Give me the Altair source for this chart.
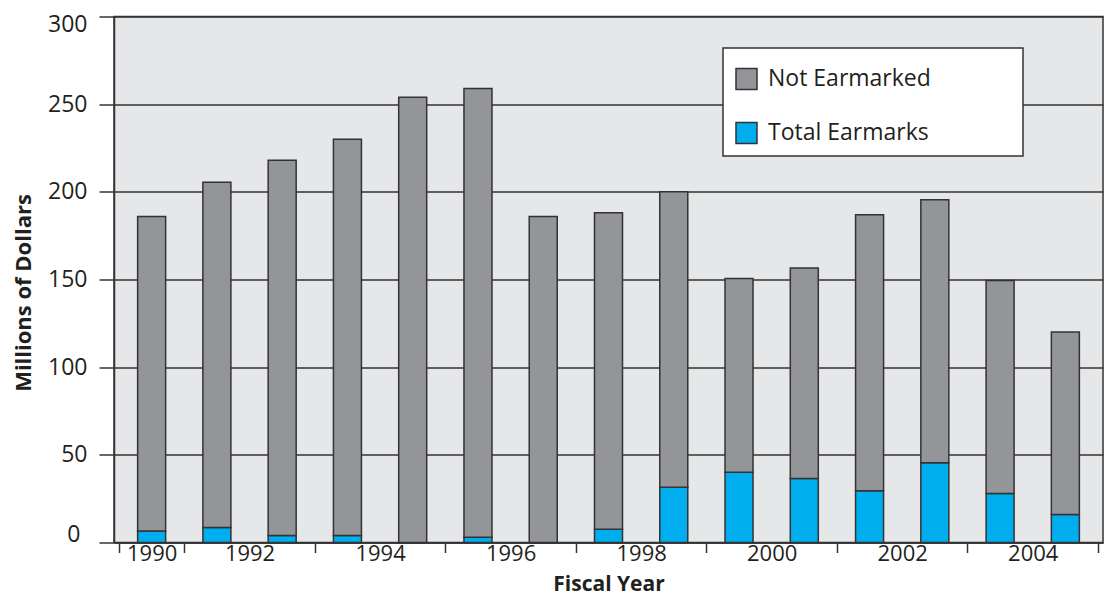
import altair as alt
import pandas as pd

# ---- data ----
years = list(range(1990, 2005))
not_earmarked = [179.5, 197, 214, 226, 254, 256, 186, 180.5, 168.5, 110.5, 120, 157.5, 150, 121.5, 104]
total_earmarks = [6.5, 8.5, 4, 4, 0, 3, 0, 7.5, 31.5, 40, 36.5, 29.5, 45.5, 28, 16]
series_names = ["Not Earmarked", "Total Earmarks"]
series_colors = ["#939598", "#00aeef"]
y_ticks = [0, 50, 100, 150, 200, 250, 300]
# x axis: ticks between bar pairs, labels centred between ticks
x_tick_positions = [-0.5, 0.5, 2.5, 4.5, 6.5, 8.5, 10.5, 12.5, 14.5]
x_label_positions = [0, 1.5, 3.5, 5.5, 7.5, 9.5, 11.5, 13.5]
x_labels = ["1990", "1992", "1994", "1996", "1998", "2000", "2002", "2004"]

rows = []
for i, yr in enumerate(years):
    rows.append({"idx": i, "year": yr, "series": "Total Earmarks", "value": total_earmarks[i], "order": 0})
    rows.append({"idx": i, "year": yr, "series": "Not Earmarked", "value": not_earmarked[i], "order": 1})
df = pd.DataFrame(rows)

INK = "#333333"
TEXT = "#231f20"
FONT = "Open Sans"

label_expr = "".join(f"datum.value == {p} ? '{l}' : " for p, l in zip(x_label_positions, x_labels)) + "''"
tick_test = "indexof([" + ", ".join(str(p) for p in x_tick_positions) + "], datum.value) >= 0"

x_axis = alt.Axis(
    values=sorted(x_tick_positions + x_label_positions),
    labelExpr=label_expr,
    tickOpacity={"condition": {"test": tick_test, "value": 1}, "value": 0},
    tickSize=10, tickColor=INK, tickWidth=1.5,
    domainColor=INK, domainWidth=1.5,
    grid=False, labelOverlap=False, labelFlush=False,
    labelFontSize=22, labelPadding=-9,
    title="Fiscal Year", titleFontSize=21, titleFontWeight="bold", titlePadding=8.5,
)

y_axis = alt.Axis(
    values=y_ticks,
    tickSize=15, tickColor=INK, tickWidth=1.5,
    domainColor=INK, domainWidth=1.5,
    grid=True, gridColor=INK, gridWidth=1.5,
    labelFontSize=23,
    labelPadding={"condition": {"test": "datum.value == 0", "value": 19}, "value": 12},
    labelOffset={"condition": [
        {"test": "datum.value == 300", "value": 7.5},
        {"test": "datum.value == 0", "value": -8},
    ], "value": 0},
    title="Millions of Dollars", titleFontSize=22, titleFontWeight="bold", titlePadding=12,
    titleY=276,
)

bars = alt.Chart(df).mark_bar(size=28, stroke=INK, strokeWidth=1.5).encode(
    x=alt.X("idx:Q", scale=alt.Scale(domain=[-0.5, 14.5], nice=False, zero=False), axis=x_axis),
    y=alt.Y("value:Q", stack="zero", scale=alt.Scale(domain=[0, 300], nice=False), axis=y_axis),
    color=alt.Color(
        "series:N",
        scale=alt.Scale(domain=series_names, range=series_colors),
        legend=alt.Legend(
            orient="none", legendX=621, legendY=51, title=None,
            symbolType="square", symbolSize=441, symbolStrokeColor=INK, symbolStrokeWidth=1.5,
            symbolOpacity=1, labelFontSize=23, labelFont=FONT, labelColor=TEXT,
            labelOffset=10, labelLimit=400, rowPadding=27, padding=0,
        ),
    ),
    order=alt.Order("order:Q", sort="ascending"),
)

legend_box = alt.Chart(alt.Data(values=[{}])).mark_rect(
    fill="white", stroke=INK, strokeWidth=1.5
).encode(
    x=alt.value(609), x2=alt.value(909), y=alt.value(31.5), y2=alt.value(139.5)
)

chart = (
    alt.layer(bars, legend_box)
    .properties(
        width=989, height=526,
        padding={"left": 106, "top": 8.5, "right": 1, "bottom": 54.5},
        autosize=alt.AutoSizeParams(type="none"),
        background="white",
    )
    .configure_view(fill="#e6e7e8", stroke=INK, strokeWidth=1.5)
    .configure_axis(labelFont=FONT, titleFont=FONT, labelColor=TEXT, titleColor=TEXT)
)

chart.save("out.html", embed_options={"renderer": "svg", "actions": False})
